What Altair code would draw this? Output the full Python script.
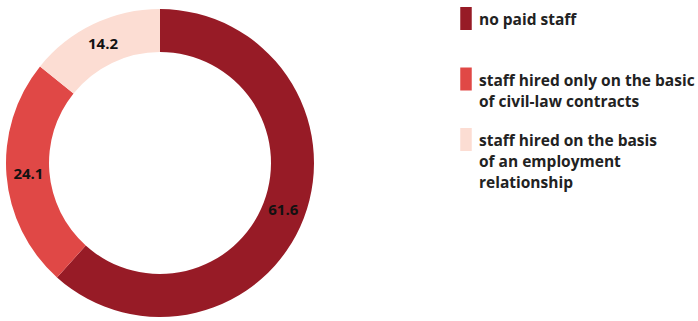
import altair as alt
import pandas as pd

categories = ["no paid staff",
              "staff hired only on the basic\nof civil-law contracts",
              "staff hired on the basis\nof an employment\nrelationship"]
values = [61.6, 24.1, 14.2]
colors = ["#971B26", "#E04846", "#FCDDD3"]

df = pd.DataFrame({"category": categories, "value": values})

base = alt.Chart(df).transform_window(idx="row_number()")

color = alt.Color("category:N", scale=alt.Scale(domain=categories, range=colors), legend=None)
theta = alt.Theta("value:Q", stack=True)
order = alt.Order("idx:Q", sort="ascending")

arcs = base.mark_arc(innerRadius=111, outerRadius=154, stroke=None).encode(
    theta=theta, color=color, order=order,
    x=alt.value(160), y=alt.value(163)
)

labels = base.mark_text(radius=132, font="Open Sans", fontSize=15, fontWeight="bold",
                        color="#111111").encode(
    theta=theta, order=order, text=alt.Text("value:Q", format=".1f"),
    x=alt.value(160), y=alt.value(163)
)

leg_y = alt.Y("idx:Q", scale=alt.Scale(domain=[1, 3], range=[18.5, 139.5]), axis=None)

leg_sym = base.mark_point(filled=True, opacity=1, shape="M-0.5,-1H0.5V1H-0.5Z", size=529).encode(
    x=alt.value(466), y=leg_y, color=color
)

leg_txt = base.mark_text(align="left", baseline="alphabetic", dy=6.5, lineBreak="\n",
                         lineHeight=21, font="Open Sans", fontSize=15.5, fontWeight="bold",
                         color="#222222").encode(
    x=alt.value(479), y=leg_y, text="category:N"
)

chart = alt.layer(arcs, labels, leg_sym, leg_txt).properties(
    width=698, height=321, padding=0, autosize=alt.AutoSizeParams(type="none")
).configure_view(stroke=None)

chart.save("out.html", embed_options={"renderer": "svg", "actions": False})
